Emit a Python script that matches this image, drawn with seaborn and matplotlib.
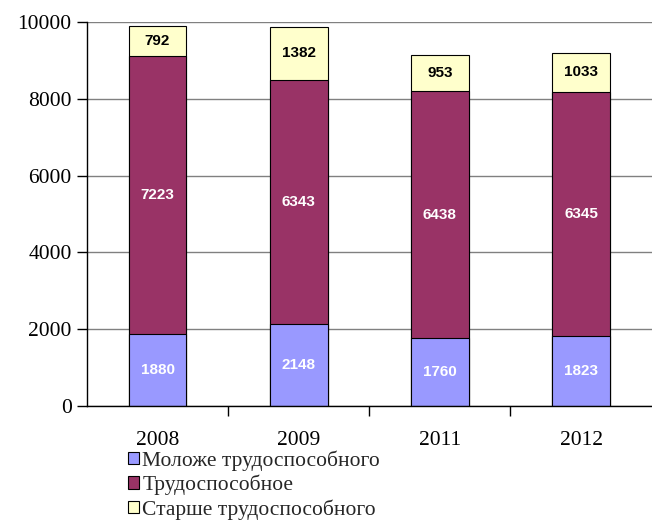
import pandas as pd
import matplotlib.pyplot as plt
import seaborn as sns

years = ['2008', '2009', '2011', '2012']
younger = [1880, 2148, 1760, 1823]
working = [7223, 6343, 6438, 6345]
older = [792, 1382, 953, 1033]

series_names = ['Моложе трудоспособного', 'Трудоспособное', 'Старше трудоспособного']
colors = ['#9999FF', '#993366', '#FFFFCC']
label_colors = ['white', 'white', 'black']

df = pd.DataFrame({'year': years, 'younger': younger, 'working': working, 'older': older})
df['c1'] = df['younger']
df['c2'] = df['younger'] + df['working']
df['c3'] = df['c2'] + df['older']

sns.set_theme(style='white')
plt.rcParams['font.family'] = ['Liberation Serif', 'DejaVu Serif']

fig = plt.figure(figsize=(6.52, 5.23), dpi=100)
ax = fig.add_axes([0.1334, 0.2237, 0.866, 0.7343])

# draw cumulative totals from top to bottom so each layer covers the one behind
for col, color, name in zip(['c3', 'c2', 'c1'], colors[::-1], series_names[::-1]):
    sns.barplot(data=df, x='year', y=col, color=color, edgecolor='black',
                linewidth=0.8, width=0.41, ax=ax, label=name, saturation=1)

segments = [('younger', 0), ('working', 'c1'), ('older', 'c2')]
for (col, base), lc in zip(segments, label_colors):
    for i, row in df.iterrows():
        b = 0 if base == 0 else row[base]
        ax.text(i, b + row[col] / 2, str(row[col]), ha='center', va='center',
                color=lc, fontsize=11, fontweight='bold',
                family=['Liberation Sans', 'DejaVu Sans'])

ax.set_ylim(0, 10000)
ax.set_xlim(-0.5, 3.5)
ax.set_yticks(range(0, 10001, 2000))
ax.yaxis.grid(True, color='#808080', linewidth=1)
ax.set_axisbelow(True)
ax.set_xlabel('')
ax.set_ylabel('')
for s in ['top', 'right']:
    ax.spines[s].set_visible(False)
for s in ['left', 'bottom']:
    ax.spines[s].set_color('black')
    ax.spines[s].set_linewidth(1)

ax.tick_params(axis='y', which='major', length=7, width=1, color='black',
               direction='out', left=True, labelsize=15.5, pad=4)
ax.tick_params(axis='x', which='major', length=0, labelsize=15.5, pad=18)
ax.set_xticks([0.5, 1.5, 2.5], minor=True)
ax.tick_params(axis='x', which='minor', length=7, width=1, color='black',
               direction='out', bottom=True)
for t in ax.get_xticklabels() + ax.get_yticklabels():
    t.set_color('black')

handles, labels = ax.get_legend_handles_labels()
order = [labels.index(n) for n in series_names]
ax.legend([handles[k] for k in order], [labels[k] for k in order],
          loc='upper left', bbox_to_anchor=(0.197, 0.139), bbox_transform=fig.transFigure,
          frameon=False, fontsize=15.5, handlelength=0.5, handleheight=0.5,
          handletextpad=0.15, labelspacing=0.18, borderpad=0, borderaxespad=0)

plt.savefig('out.png', dpi=100)
plt.close()
